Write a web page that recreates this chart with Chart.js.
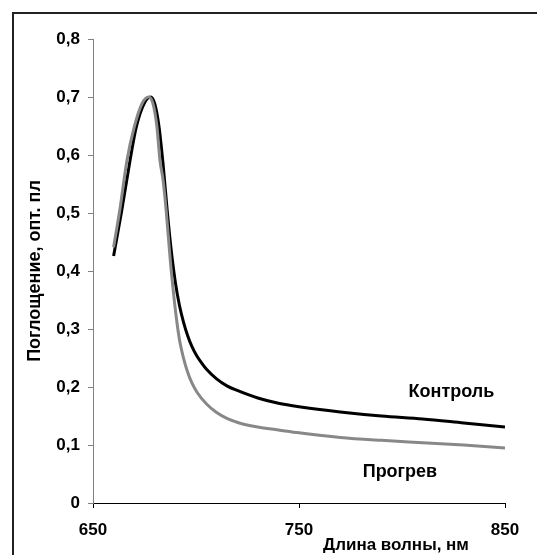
<!DOCTYPE html>
<html>
<head>
<meta charset="utf-8">
<script src="https://cdn.jsdelivr.net/npm/chart.js@4/dist/chart.umd.min.js"></script>
<style>
  html, body { margin: 0; background: #fff; overflow: hidden; }
  canvas { display: block; }
</style>
</head>
<body>
<canvas id="chart" width="537" height="555"></canvas>
<script>
// wavelength, nm / absorbance
const wlControl = [660, 664, 668, 671, 675, 678, 680, 682, 684, 686, 688, 690, 692, 694, 696, 698, 700, 702, 705, 710, 715, 720, 730, 740, 750, 770, 790, 810, 830, 850];
const absControl = [0.426, 0.505, 0.591, 0.648, 0.690, 0.700, 0.688, 0.650, 0.585, 0.505, 0.435, 0.380, 0.340, 0.311, 0.288, 0.270, 0.256, 0.245, 0.231, 0.214, 0.202, 0.194, 0.181, 0.172, 0.166, 0.157, 0.150, 0.145, 0.138, 0.131];

const wlHeat = [660, 663, 666.5, 670, 674, 677, 679, 681, 682.5, 684, 685.5, 687.5, 689, 690.5, 692, 694, 696, 698, 700.5, 705, 710, 715, 721, 730, 740, 750, 770, 790, 810, 830, 850];
const absHeat = [0.441, 0.505, 0.591, 0.648, 0.690, 0.700, 0.690, 0.650, 0.591, 0.557, 0.505, 0.419, 0.365, 0.318, 0.281, 0.249, 0.225, 0.207, 0.191, 0.171, 0.156, 0.146, 0.138, 0.131, 0.126, 0.121, 0.113, 0.108, 0.104, 0.100, 0.095];

const xTicks = [650, 750, 850];
const yTicks = [0, 0.1, 0.2, 0.3, 0.4, 0.5, 0.6, 0.7, 0.8];
const yTickLabels = ['0', '0,1', '0,2', '0,3', '0,4', '0,5', '0,6', '0,7', '0,8'];

// curve labels: [text, wavelength, absorbance]
const curveLabels = [
  ['Контроль', 824, 0.191],
  ['Прогрев', 799, 0.053]
];

const FONT = '"Liberation Sans", Arial, sans-serif';

const toPoints = (xs, ys) => xs.map((x, i) => ({ x: x, y: ys[i] }));

const extras = {
  id: 'extras',
  beforeDraw(chart) {
    // outer frame, only top and left edges fall inside the picture
    const ctx = chart.ctx;
    ctx.save();
    ctx.strokeStyle = '#222';
    ctx.lineWidth = 2;
    ctx.beginPath();
    ctx.moveTo(13, 555);
    ctx.lineTo(13, 13);
    ctx.lineTo(537, 13);
    ctx.stroke();
    ctx.restore();
  },
  afterDraw(chart) {
    const ctx = chart.ctx;
    const xs = chart.scales.x, ys = chart.scales.y;
    ctx.save();
    ctx.fillStyle = '#000';
    ctx.textAlign = 'center';
    ctx.textBaseline = 'middle';
    ctx.font = 'bold 18px ' + FONT;
    curveLabels.forEach(([t, wl, v]) => {
      ctx.fillText(t, xs.getPixelForValue(wl), ys.getPixelForValue(v));
    });
    ctx.font = 'bold 17px ' + FONT;
    ctx.fillText('Длина волны, нм', 396, 545);
    ctx.restore();
  }
};

new Chart(document.getElementById('chart'), {
  type: 'line',
  data: {
    datasets: [
      {
        label: 'Прогрев',
        data: toPoints(wlHeat, absHeat),
        borderColor: '#888888',
        borderWidth: 3,
        pointRadius: 0,
        cubicInterpolationMode: 'monotone'
      },
      {
        label: 'Контроль',
        data: toPoints(wlControl, absControl),
        borderColor: '#000000',
        borderWidth: 3,
        pointRadius: 0,
        cubicInterpolationMode: 'monotone'
      }
    ]
  },
  options: {
    responsive: false,
    animation: false,
    layout: { padding: { left: 0, right: 32, top: 39, bottom: 0 } },
    plugins: { legend: { display: false }, tooltip: { enabled: false } },
    scales: {
      x: {
        type: 'linear',
        min: 650,
        max: 850,
        afterBuildTicks: (s) => { s.ticks = xTicks.map(v => ({ value: v })); },
        afterFit: (s) => { s.height = 52; },
        grid: { drawOnChartArea: false, drawTicks: true, tickLength: 5, color: '#000' },
        border: { color: '#000', width: 1 },
        ticks: {
          color: '#000',
          padding: 12,
          maxRotation: 0,
          font: { family: FONT, size: 17, weight: 'bold' }
        }
      },
      y: {
        min: 0,
        max: 0.8,
        afterBuildTicks: (s) => { s.ticks = yTicks.map(v => ({ value: v })); },
        afterFit: (s) => { s.width = 93; },
        grid: { drawOnChartArea: false, drawTicks: true, tickLength: 5, color: '#808080' },
        border: { color: '#808080', width: 1 },
        ticks: {
          color: '#000',
          padding: 8,
          callback: (v, i) => yTickLabels[i],
          font: { family: FONT, size: 17, weight: 'bold' }
        },
        title: {
          display: true,
          text: 'Поглощение, опт. пл',
          color: '#000',
          padding: { top: 24, bottom: 0 },
          font: { family: FONT, size: 18, weight: 'bold' }
        }
      }
    }
  },
  plugins: [extras]
});
</script>
</body>
</html>
